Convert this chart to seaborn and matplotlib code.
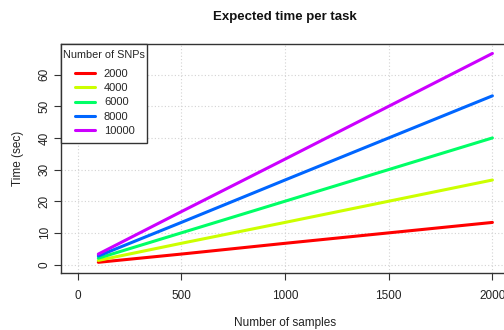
import matplotlib
matplotlib.use("Agg")
import matplotlib.pyplot as plt
from matplotlib.legend_handler import HandlerLine2D
from matplotlib.offsetbox import DrawingArea
import pandas as pd
import seaborn as sns

samples = [100, 500, 1000, 1500, 2000]
snp_counts = ["2000", "4000", "6000", "8000", "10000"]
times = {
    "2000": [0.7, 3.3, 6.7, 10.0, 13.3],
    "4000": [1.3, 6.7, 13.3, 20.0, 26.7],
    "6000": [2.0, 10.0, 20.0, 30.0, 40.0],
    "8000": [2.7, 13.3, 26.7, 40.0, 53.3],
    "10000": [3.3, 16.7, 33.3, 50.0, 66.7],
}
colors = ["#FF0000", "#CCFF00", "#00FF66", "#0066FF", "#CC00FF"]
x_ticks = [0, 500, 1000, 1500, 2000]
y_ticks = [0, 10, 20, 30, 40, 50, 60]

sns.set_theme(style="white")
plt.rcParams["font.family"] = ["Liberation Sans", "DejaVu Sans"]


class IndentedLine(HandlerLine2D):
    # R-style legend: line segment indented from the legend title
    def get_xdata(self, legend, xdescent, ydescent, width, height, fontsize):
        xdata, xm = super().get_xdata(legend, xdescent, ydescent, width, height, fontsize)
        x0, x1 = xdata[0], xdata[-1]
        return [x0 + 0.36 * (x1 - x0), x1], xm


df = pd.DataFrame(
    [(n, s, t) for s in snp_counts for n, t in zip(samples, times[s])],
    columns=["samples", "snps", "time"],
)

fig = plt.figure(figsize=(5.04, 3.3), dpi=100)
ax = fig.add_axes([61 / 504, 1 - 273 / 330, 448 / 504, 229 / 330])

ax.set_axisbelow(True)
ax.grid(True, color="#d3d3d3", linestyle=(0, (1, 2)), linewidth=0.8)

sns.lineplot(data=df, x="samples", y="time", hue="snps", hue_order=snp_counts,
             palette=colors, linewidth=2.2, estimator=None, ax=ax)

ax.set_xlim(-80, 2080)
ax.set_ylim(-2.68, 69.68)
ax.set_xticks(x_ticks)
ax.set_yticks(y_ticks)
ax.set_yticklabels([str(v) for v in y_ticks], rotation=90, va="center")
ax.tick_params(axis="both", direction="out", length=5, width=0.8, color="#333333",
               labelsize=8.5, labelcolor="#222222", bottom=True, left=True)
ax.tick_params(axis="x", pad=7)
ax.tick_params(axis="y", pad=2.5)
for sp in ax.spines.values():
    sp.set_color("#333333")
    sp.set_linewidth(1.0)

ax.set_xlabel("")
ax.set_ylabel("")
fig.text(285 / 504, 1 - 323 / 330, "Number of samples", ha="center", va="center",
         fontsize=8.5, color="#222222")
fig.text(18 / 504, 1 - 158 / 330, "Time (sec)", ha="center", va="center",
         rotation=90, fontsize=8.5, color="#222222")
fig.text(285 / 504, 1 - 17 / 330, "Expected time per task", ha="center", va="center",
         fontsize=9.5, fontweight="bold", color="#111111")

handles, labels = ax.get_legend_handles_labels()
leg = ax.legend(handles, labels, title="Number of SNPs", loc="upper left",
                bbox_to_anchor=(0, 1), borderaxespad=0, fancybox=False, framealpha=1,
                edgecolor="#333333", fontsize=8, title_fontsize=7.8, alignment="left",
                handlelength=2.9, handletextpad=0.76, labelspacing=0.38,
                borderpad=0.2, handler_map={h: IndentedLine() for h in handles})
# extra vertical room above/below the title and entries, narrow side padding
box = leg._legend_box
title_box, entry_box = box.get_children()[:2]
box._children = [DrawingArea(1, 2.7), title_box, DrawingArea(1, 6.5), entry_box,
                 DrawingArea(1, 3.5)]
box.sep = 0
box.set_figure(fig)
leg.get_frame().set_linewidth(1.0)
for line in leg.get_lines():
    line.set_linewidth(2.2)

fig.savefig("out.png", dpi=100)
